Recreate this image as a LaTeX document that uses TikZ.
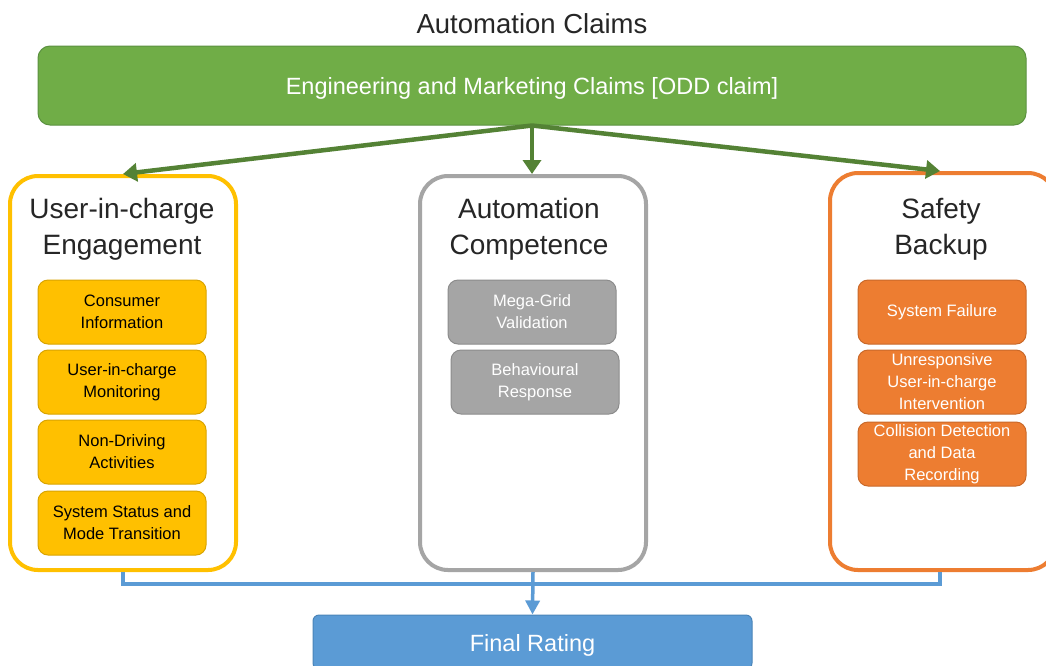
\documentclass[tikz,border=0pt]{standalone}
\usepackage{fontspec}
\setmainfont{Liberation Sans}
\usetikzlibrary{arrows.meta}
\definecolor{cgreen}{HTML}{70AD47}
\definecolor{cgreenD}{HTML}{5B9140}
\definecolor{carrow}{HTML}{548235}
\definecolor{cyellow}{HTML}{FFC000}
\definecolor{cyellowD}{HTML}{D9A400}
\definecolor{cgrey}{HTML}{A5A5A5}
\definecolor{cgreyD}{HTML}{8C8C8C}
\definecolor{corange}{HTML}{ED7D31}
\definecolor{corangeD}{HTML}{C9692A}
\definecolor{cblue}{HTML}{5B9BD5}
\definecolor{cblueD}{HTML}{4A84B8}
\tikzset{
  container/.style={draw, line width=4pt, rounded corners=28pt, fill=white, minimum width=226pt, inner sep=0pt},
  ctitle/.style={align=center, font=\fontsize{28}{36}\selectfont, text=black!85},
  subbox/.style={draw, line width=1pt, rounded corners=10pt, minimum width=168pt, minimum height=64pt, align=center, font=\fontsize{16.5}{22}\selectfont, inner sep=0pt},
  ybox/.style={subbox, fill=cyellow, draw=cyellowD, text=black},
  gbox/.style={subbox, fill=cgrey, draw=cgreyD, text=white},
  obox/.style={subbox, fill=corange, draw=corangeD, text=white},
  garrow/.style={draw=carrow, line width=4.5pt, -{Triangle[length=14pt,width=18pt]}},
  bline/.style={draw=cblue, line width=3.5pt}
}
\newcommand{\lowertext}[1]{\raisebox{-3pt}[\height][\depth]{#1}}
\begin{document}
\begin{tikzpicture}[x=1pt,y=-1pt]
\useasboundingbox (0,0) rectangle (1046,665);
\clip (0,0) rectangle (1046,665);
\fill[white] (0,0) rectangle (1046,665);

\node[font=\fontsize{27.5}{30}\selectfont, text=black!85] (title) at (532,24) {Automation Claims};
\node[draw=cgreenD, line width=1pt, fill=cgreen, rounded corners=12pt, minimum width=988pt, minimum height=79pt, text=white, font=\fontsize{23.5}{26}\selectfont] (claims) at (532,85.5) {\lowertext{Engineering and Marketing Claims [ODD claim]}};

\node[container, draw=cyellow, minimum height=394pt] (uic) at (123,373) {};
\node[container, draw=cgrey, minimum height=394pt] (ac) at (533,373) {};
\node[container, draw=corange, minimum height=397pt] (sb) at (943,371.5) {};

\node[ctitle] (uict) at (122,229) {User-in-charge\\Engagement};
\node[ctitle] (act) at (529,229) {Automation\\Competence};
\node[ctitle] (sbt) at (941,229) {Safety\\Backup};

\node[ybox] (y1) at (122,312) {Consumer\\Information};
\node[ybox] (y2) at (122,382) {User-in-charge\\Monitoring};
\node[ybox] (y3) at (122,452) {Non-Driving\\Activities};
\node[ybox] (y4) at (122,523) {System Status and\\Mode Transition};

\node[gbox] (g1) at (532,312) {Mega-Grid\\Validation};
\node[gbox] (g2) at (535,382) {Behavioural\\Response};

\node[obox] (o1) at (942,312) {System Failure};
\node[obox] (o2) at (942,382) {Unresponsive\\User-in-charge\\Intervention};
\node[obox] (o3) at (942,454) {Collision Detection\\and Data\\Recording};

\node[draw=cblueD, line width=1pt, fill=cblue, rounded corners=6pt, minimum width=439pt, minimum height=54pt, text=white, font=\fontsize{23.5}{26}\selectfont] (final) at (532.5,642) {\lowertext{Final Rating}};

\draw[garrow] (claims.south) -- (uic.north);
\draw[garrow] (claims.south) -- (claims.south |- ac.north);
\draw[garrow] (claims.south) -- ([xshift=-3pt]sb.north);

\coordinate (bus) at (532,584);
\draw[bline] (uic.south) |- (bus) -| ([xshift=-3pt]sb.south);
\draw[bline, -{Triangle[length=14pt,width=14pt]}] (ac.south) -- (final.north);
\end{tikzpicture}
\end{document}
